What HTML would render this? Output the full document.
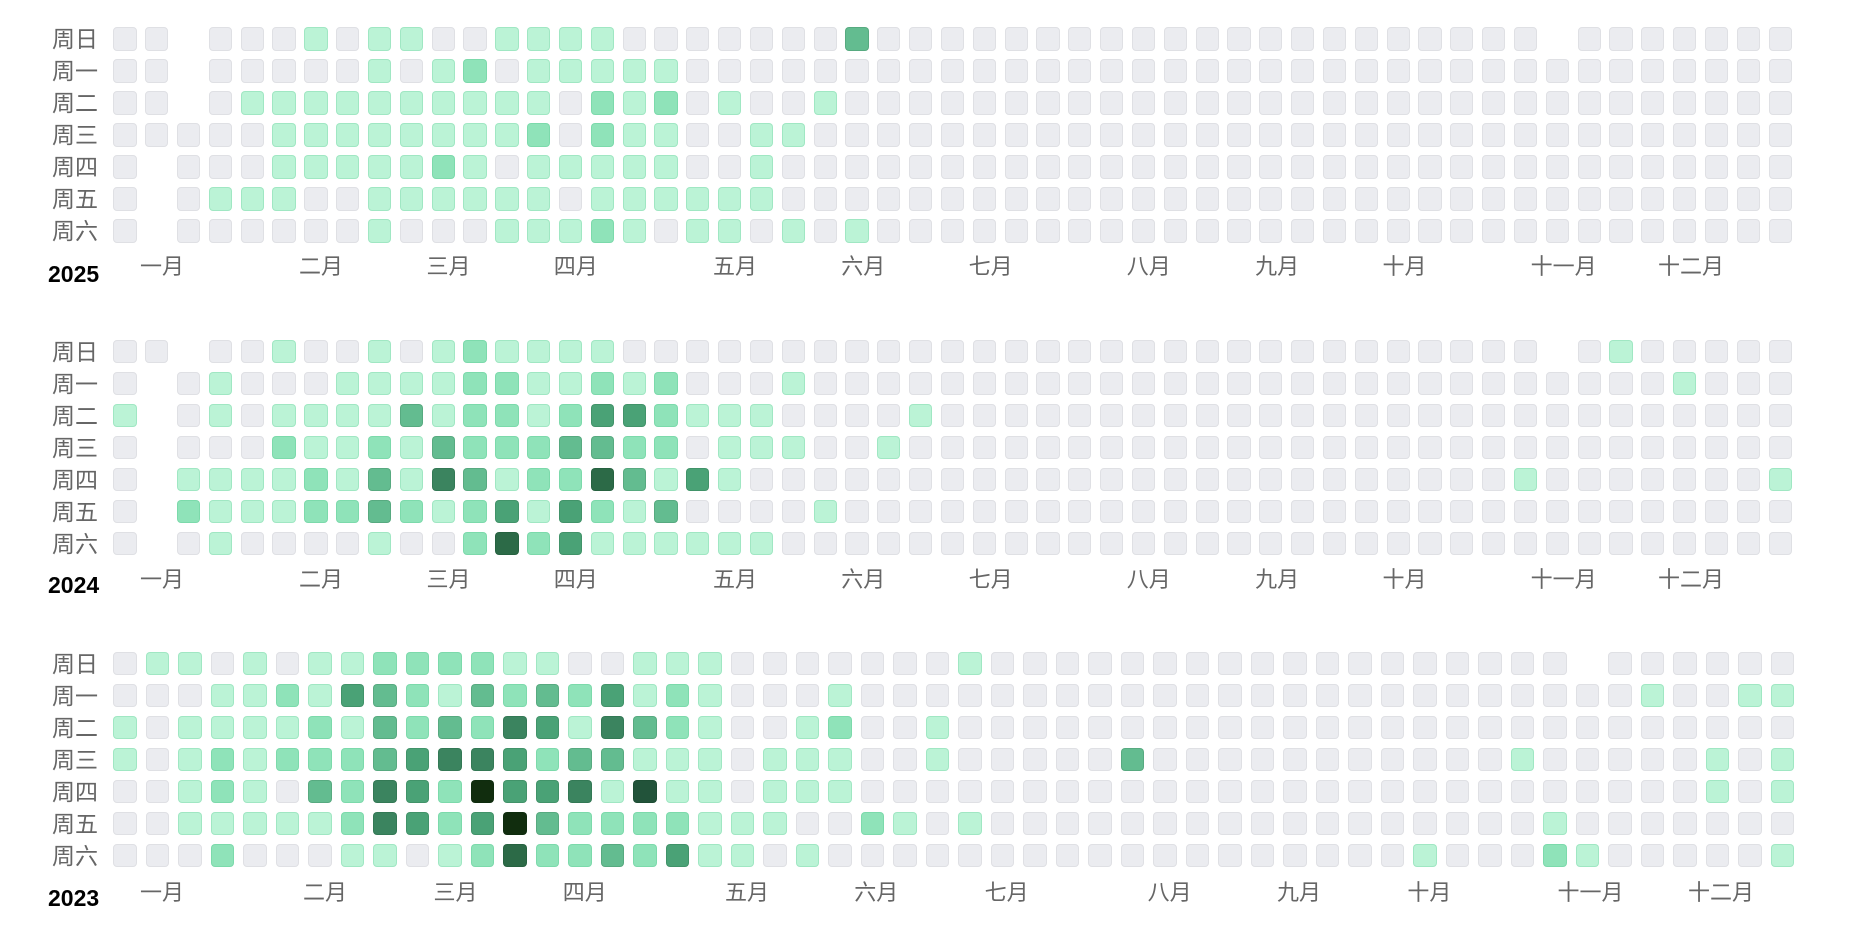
<!DOCTYPE html>
<html><head><meta charset="utf-8">
<style>
html,body{margin:0;padding:0;background:#fff;}
body{width:1876px;height:940px;position:relative;overflow:hidden;font-family:"Liberation Sans","Noto Sans CJK SC",sans-serif;}
.c{position:absolute;width:23.3px;height:23.3px;box-sizing:border-box;border-radius:4px;border:1.5px solid rgba(0,0,0,0.045);}
.wd{position:absolute;left:0;width:98px;text-align:right;font-size:23px;color:#666;line-height:24px;}
.mo{position:absolute;font-size:22px;color:#666;line-height:24px;transform:translateX(-50%);white-space:nowrap;}
.yr{position:absolute;left:48px;font-size:23px;font-weight:bold;color:#000;line-height:24px;}
</style></head><body>
<div id="root"></div>

<!-- 2025 -->
<div class="wd" style="top:27px">周日</div><div class="wd" style="top:59px">周一</div><div class="wd" style="top:91px">周二</div><div class="wd" style="top:123px">周三</div><div class="wd" style="top:155px">周四</div><div class="wd" style="top:187px">周五</div><div class="wd" style="top:219px">周六</div>
<div class="yr" style="top:262px">2025</div>
<div class="mo" style="top:255px;left:162px">一月</div><div class="mo" style="top:255px;left:321px">二月</div><div class="mo" style="top:255px;left:448.5px">三月</div><div class="mo" style="top:255px;left:575.8px">四月</div><div class="mo" style="top:255px;left:735px">五月</div><div class="mo" style="top:255px;left:863.3px">六月</div><div class="mo" style="top:255px;left:990.7px">七月</div><div class="mo" style="top:255px;left:1148.8px">八月</div><div class="mo" style="top:255px;left:1277.2px">九月</div><div class="mo" style="top:255px;left:1404.5px">十月</div><div class="mo" style="top:255px;left:1563.7px">十一月</div><div class="mo" style="top:255px;left:1691px">十二月</div>

<!-- 2024 -->
<div class="wd" style="top:340px">周日</div><div class="wd" style="top:372px">周一</div><div class="wd" style="top:404px">周二</div><div class="wd" style="top:436px">周三</div><div class="wd" style="top:468px">周四</div><div class="wd" style="top:500px">周五</div><div class="wd" style="top:532px">周六</div>
<div class="yr" style="top:573px">2024</div>
<div class="mo" style="top:568px;left:162px">一月</div><div class="mo" style="top:568px;left:321px">二月</div><div class="mo" style="top:568px;left:448.5px">三月</div><div class="mo" style="top:568px;left:575.8px">四月</div><div class="mo" style="top:568px;left:735px">五月</div><div class="mo" style="top:568px;left:863.3px">六月</div><div class="mo" style="top:568px;left:990.7px">七月</div><div class="mo" style="top:568px;left:1148.8px">八月</div><div class="mo" style="top:568px;left:1277.2px">九月</div><div class="mo" style="top:568px;left:1404.5px">十月</div><div class="mo" style="top:568px;left:1563.7px">十一月</div><div class="mo" style="top:568px;left:1691px">十二月</div>

<!-- 2023 -->
<div class="wd" style="top:652px">周日</div><div class="wd" style="top:684px">周一</div><div class="wd" style="top:716px">周二</div><div class="wd" style="top:748px">周三</div><div class="wd" style="top:780px">周四</div><div class="wd" style="top:812px">周五</div><div class="wd" style="top:844px">周六</div>
<div class="yr" style="top:886px">2023</div>
<div class="mo" style="top:881px;left:162px">一月</div><div class="mo" style="top:881px;left:325px">二月</div><div class="mo" style="top:881px;left:455.5px">三月</div><div class="mo" style="top:881px;left:584.8px">四月</div><div class="mo" style="top:881px;left:747px">五月</div><div class="mo" style="top:881px;left:876.3px">六月</div><div class="mo" style="top:881px;left:1006.6px">七月</div><div class="mo" style="top:881px;left:1169.7px">八月</div><div class="mo" style="top:881px;left:1299px">九月</div><div class="mo" style="top:881px;left:1429.4px">十月</div><div class="mo" style="top:881px;left:1590.5px">十一月</div><div class="mo" style="top:881px;left:1721px">十二月</div>

<script>
var COL=["#ebecf0","#bbf3d6","#8fe3b9","#63bc90","#4aa276","#3b845f","#2c6a47","#22533a","#112d0e"];
var sections=[
 {top:27.3,cols:53,pitch:31.83,rows:[
  "00X000101100111100000003000",
  "00X000001012011111000000000",
  "00X011111111110212010010000",
  "000001111111120211001100000",
  "0X0001111121011111001000000",
  "0X0111001111110111111000000",
  "0X0000001000111210110101000"],
  ov:[[0,45,"X"]]},
 {top:340,cols:53,pitch:31.83,rows:[
  "00X001001012111100000000000",
  "0X0100011112211212000100000",
  "1X0101111312212442111000010",
  "0X0002112132223322011100100",
  "0X1111213153122631410000000",
  "0X2111223212414213000010000",
  "0X0100001002624111111000000"],
  ov:[[0,45,"X"],[0,47,"1"],[1,49,"1"],[4,44,"1"],[4,52,"1"]]},
 {top:652,cols:52,pitch:32.5,rows:[
  "011010112222110011100000001",
  "000112143213232412100010000",
  "101111213232541532100120010",
  "101212223455423311101110010",
  "001210325428445171101110000",
  "001111125424832222111002101",
  "000200011012622324110100000"],
  ov:[[0,45,"X"],[1,47,"1"],[1,50,"1"],[1,51,"1"],[3,31,"3"],[3,43,"1"],[3,49,"1"],[3,51,"1"],[4,49,"1"],[4,51,"1"],[5,44,"1"],[6,40,"1"],[6,44,"2"],[6,45,"1"],[6,51,"1"]]}
];
var h="";
sections.forEach(function(s){
 var g=s.rows.map(function(r){var a=r.split("");while(a.length<s.cols)a.push("0");return a;});
 s.ov.forEach(function(o){g[o[0]][o[1]]=o[2];});
 for(var r=0;r<7;r++)for(var c=0;c<s.cols;c++){
  var v=g[r][c]; if(v==="X")continue; v=+v;
  var x=113.3+c*s.pitch, y=s.top+r*32;
  var bc=v===0?"#dfe0e4":(v<=2?"rgba(40,180,110,0.18)":"rgba(0,40,20,0.12)");
  h+='<div class="c" style="left:'+x.toFixed(1)+'px;top:'+y.toFixed(1)+'px;background:'+COL[v]+';border-color:'+bc+'"></div>';
 }
});
document.getElementById("root").innerHTML=h;
</script>
</body></html>
